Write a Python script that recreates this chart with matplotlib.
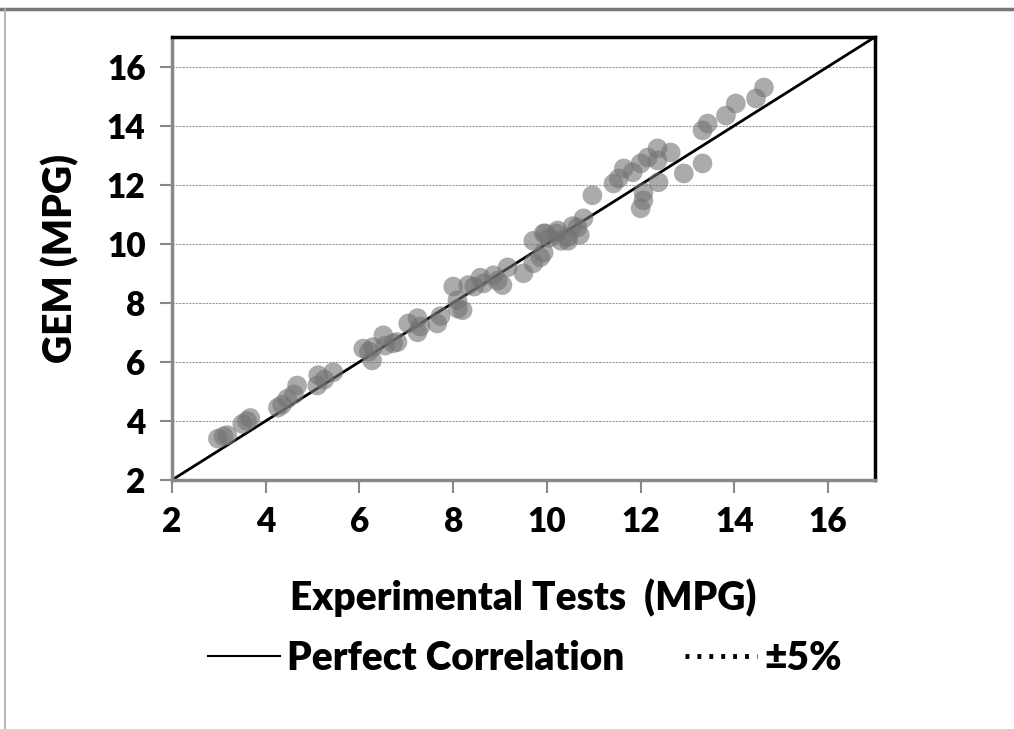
import matplotlib.pyplot as plt
from matplotlib.lines import Line2D

plt.rcParams['font.family'] = ['Lato', 'DejaVu Sans']
plt.rcParams['font.weight'] = 'heavy'

exp_mpg = [2.98, 3.10, 3.18, 3.50, 3.60, 3.67, 4.26, 4.35, 4.46, 4.67, 4.60,
           5.10, 5.12, 5.25, 5.44, 6.08, 6.20, 6.29, 6.27, 6.51, 6.55, 6.72,
           6.81, 7.04, 7.24, 7.24, 7.30, 7.66, 7.73, 8.00, 8.09, 8.20, 8.10,
           8.32, 8.45, 8.58, 8.65, 8.86, 8.95, 9.05, 9.16, 9.50, 9.71, 9.71,
           9.86, 9.93, 9.93, 9.97, 10.05, 10.20, 10.23, 10.30, 10.44, 10.45,
           10.55, 10.65, 10.70, 10.78, 10.97, 11.42, 11.53, 11.64, 11.83,
           12.00, 12.06, 12.06, 12.00, 12.15, 12.36, 12.36, 12.38, 12.64,
           12.92, 13.32, 13.32, 13.43, 13.82, 14.03, 14.46, 14.63]
gem_mpg = [3.40, 3.48, 3.52, 3.90, 4.00, 4.10, 4.45, 4.55, 4.75, 5.20, 4.90,
           5.20, 5.55, 5.40, 5.65, 6.45, 6.35, 6.50, 6.05, 6.90, 6.55, 6.63,
           6.67, 7.30, 7.48, 7.00, 7.20, 7.30, 7.55, 8.55, 8.09, 7.75, 7.80,
           8.60, 8.55, 8.85, 8.66, 8.93, 8.75, 8.60, 9.20, 9.00, 10.10, 9.34,
           9.54, 10.35, 9.70, 10.35, 10.20, 10.35, 10.45, 10.10, 10.22, 10.10,
           10.60, 10.55, 10.30, 10.86, 11.64, 12.04, 12.21, 12.55, 12.42,
           11.20, 11.74, 11.47, 12.72, 12.92, 13.23, 12.82, 12.08, 13.09,
           12.38, 12.72, 13.84, 14.07, 14.34, 14.75, 14.92, 15.29]

ref_line = [2, 17]
ticks = [2, 4, 6, 8, 10, 12, 14, 16]

fig = plt.figure(figsize=(10.14, 7.29), dpi=100)
# outer frame: only the top and left edges are visible
fig.add_artist(Line2D([0, 1], [1 - 8.5 / 729] * 2, transform=fig.transFigure,
                      color='#777777', lw=2.5))
fig.add_artist(Line2D([5 / 1014] * 2, [0, 1 - 8.5 / 729],
                      transform=fig.transFigure, color='#aaaaaa', lw=1.2))

ax = fig.add_axes([172 / 1014, 1 - 480 / 729, 703 / 1014, 443 / 729])

ax.plot(ref_line, ref_line, color='black', lw=2, zorder=2)
ax.scatter(exp_mpg, gem_mpg, s=200, color='0.45', alpha=0.6,
           edgecolors='none', zorder=3)

ax.set_xlim(2, 17)
ax.set_ylim(2, 17)
ax.set_xticks(ticks)
ax.set_yticks(ticks)
ax.tick_params(labelsize=24, length=9, width=1.5, color='#888888', pad=10)
ax.grid(axis='y', color='#999999', lw=0.8, ls='--', dashes=(2, 1))
ax.set_axisbelow(True)
for side in ['top', 'right']:
    ax.spines[side].set_color('black')
    ax.spines[side].set_linewidth(2.5)
for side in ['left', 'bottom']:
    ax.spines[side].set_color('#888888')
    ax.spines[side].set_linewidth(2.5)

ax.set_xlabel('Experimental Tests  (MPG)', fontsize=28, fontweight='heavy',
              labelpad=29)
ax.set_ylabel('GEM (MPG)', fontsize=28, fontweight='heavy', labelpad=20)

handles = [Line2D([], [], color='black', lw=1.5),
           Line2D([], [], color='black', lw=3.5, ls=(0, (0.8, 1.65)))]
fig.legend(handles, ['Perfect Correlation', '±5%'], loc='center',
           bbox_to_anchor=(525 / 1014, 1 - 658 / 729), ncol=2, frameon=False,
           prop={'size': 28, 'weight': 'heavy'}, handlelength=1.85,
           handletextpad=0.2, columnspacing=1.55)

fig.savefig('out.png', dpi=100)
